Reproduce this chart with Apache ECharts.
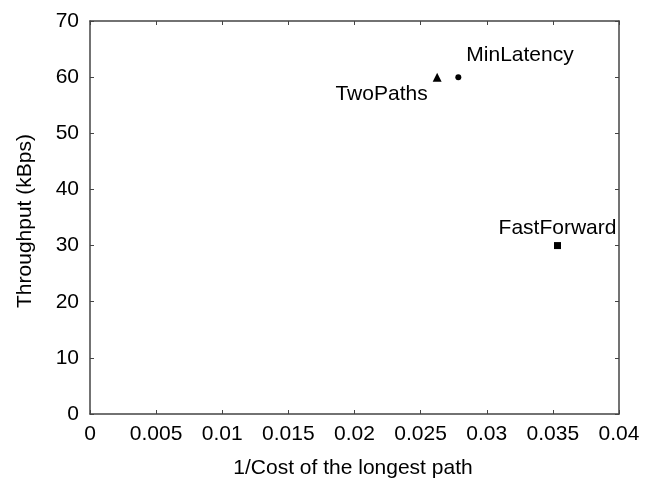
<!DOCTYPE html>
<html>
<head>
<meta charset="utf-8">
<script src="https://cdn.jsdelivr.net/npm/echarts@6/dist/echarts.min.js"></script>
<style>
  html, body { margin: 0; padding: 0; background: #fff; }
  #chart { width: 652px; height: 478px; }
</style>
</head>
<body>
<div id="chart"></div>
<script>
    // data
    var names = ["TwoPaths", "MinLatency", "FastForward"];
    var invCost = [0.02625, 0.02785, 0.03535];
    var throughput = [60, 60, 30];
    var symbols = ["triangle", "circle", "rect"];
    var symbolSizes = [9, 6, 7];

    var xTicks = [0, 0.005, 0.01, 0.015, 0.02, 0.025, 0.03, 0.035, 0.04];
    var yTicks = [0, 10, 20, 30, 40, 50, 60, 70];

    var font = "Liberation Sans, Arial, sans-serif";
    var fontSize = 21;
    var axisColor = "#444";

    // label placement per point
    var labelPos = ["left", "right", "top"];
    var labelOffset = [[0, 17], [0, -22], [0, 2]];

    var chart = echarts.init(document.getElementById("chart"));

    var points = names.map(function (n, i) {
        return {
            name: n,
            value: [invCost[i], throughput[i]],
            symbol: symbols[i],
            symbolSize: symbolSizes[i],
            label: {
                show: true,
                formatter: n,
                position: labelPos[i],
                offset: labelOffset[i],
                distance: 5
            }
        };
    });

    function axisBase(extra) {
        var a = {
            type: "value",
            axisLine: { show: true, onZero: false, lineStyle: { color: axisColor, width: 1.5 } },
            axisTick: { show: true, inside: true, length: 4, lineStyle: { color: axisColor, width: 1 } },
            splitLine: { show: false }
        };
        return Object.assign(a, extra);
    }

    var option = {
        animation: false,
        backgroundColor: "#fff",
        grid: { left: 90, right: 33, top: 21, bottom: 64 },
        xAxis: [
            axisBase({
                min: xTicks[0], max: xTicks[xTicks.length - 1], interval: 0.005,
                axisLabel: {
                    color: "#000", fontSize: fontSize, fontFamily: font, margin: 10,
                    formatter: function (v) { return String(+v.toFixed(3)); }
                }
            }),
            axisBase({
                position: "top", min: xTicks[0], max: xTicks[xTicks.length - 1], interval: 0.005,
                axisLabel: { show: false }
            })
        ],
        yAxis: [
            axisBase({
                min: yTicks[0], max: yTicks[yTicks.length - 1], interval: 10,
                axisLabel: { color: "#000", fontSize: fontSize, fontFamily: font, margin: 11 }
            }),
            axisBase({
                position: "right", min: yTicks[0], max: yTicks[yTicks.length - 1], interval: 10,
                axisLabel: { show: false }
            })
        ],
        graphic: [
            {
                type: "text",
                x: 353, y: 468,
                style: {
                    text: "1/Cost of the longest path",
                    fill: "#000", fontSize: fontSize, fontFamily: font,
                    textAlign: "center", textVerticalAlign: "middle"
                }
            },
            {
                type: "text",
                x: 25, y: 221,
                rotation: Math.PI / 2,
                style: {
                    text: "Throughput (kBps)",
                    fill: "#000", fontSize: fontSize, fontFamily: font,
                    textAlign: "center", textVerticalAlign: "middle"
                }
            }
        ],
        series: [{
            type: "scatter",
            data: points,
            itemStyle: { color: "#000", opacity: 1 },
            label: { color: "#000", fontSize: fontSize, fontFamily: font }
        }]
    };

    chart.setOption(option);
</script>
</body>
</html>
